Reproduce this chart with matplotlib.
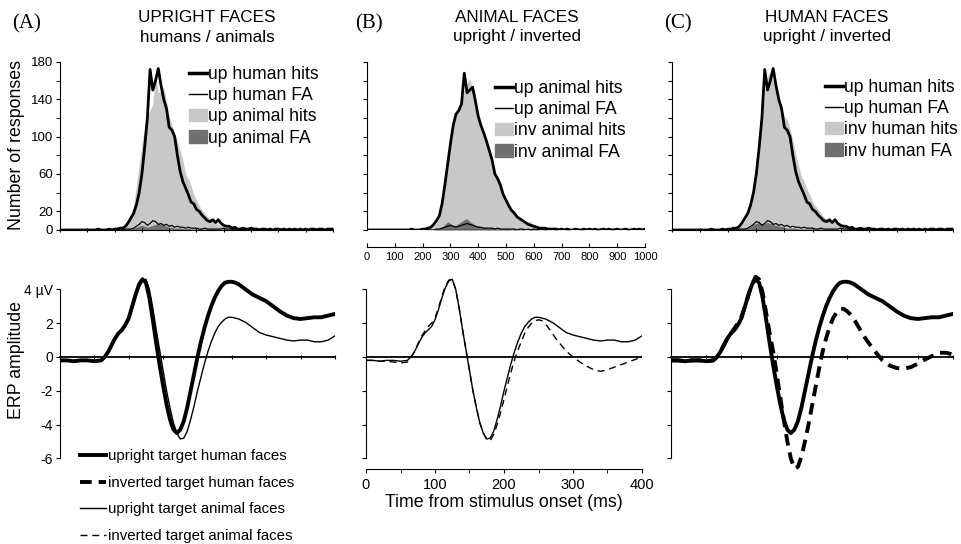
import numpy as np
import matplotlib.pyplot as plt
from matplotlib.lines import Line2D
from matplotlib.patches import Patch

plt.rcParams["font.family"] = "Liberation Sans"

# ---- reaction time histograms (10 ms bins, 0..1000 ms) ----
rt_bins = np.arange(0, 1001, 10)

up_human_hits = [0, 0, 0, 0, 0, 0, 0, 0, 0, 0,
                 0, 0, 0, 0, 1, 0, 0, 0, 1, 0,
                 1, 1, 2, 2, 4, 8, 13, 18, 27, 40,
                 60, 88, 120, 172, 150, 160, 173, 155, 140, 130,
                 110, 107, 100, 80, 63, 52, 45, 38, 30, 28,
                 22, 20, 16, 13, 10, 9, 11, 8, 11, 7,
                 5, 4, 4, 2, 3, 1, 1, 2, 1, 1,
                 2, 1, 1, 0, 1, 1, 0, 1, 0, 1,
                 1, 0, 1, 0, 1, 0, 1, 0, 1, 0,
                 1, 0, 1, 1, 0, 1, 1, 0, 1, 1,
                 1]
up_human_fa = [0, 0, 0, 0, 0, 0, 0, 0, 0, 0,
               0, 0, 0, 0, 0, 0, 0, 0, 0, 0,
               0, 0, 0, 0, 1, 1, 1, 2, 4, 6,
               9, 8, 5, 7, 10, 9, 6, 7, 5, 6,
               4, 5, 3, 4, 3, 3, 2, 3, 2, 2,
               2, 1, 1, 2, 1, 1, 1, 1, 1, 1,
               2, 1, 1, 1, 0, 1, 0, 1, 0, 0,
               1, 0, 0, 1, 0, 0, 1, 0, 0, 0,
               0, 1, 0, 0, 0, 1, 0, 0, 0, 0,
               1, 0, 0, 0, 1, 0, 0, 0, 0, 1,
               0]
up_animal_hits = [0, 0, 0, 0, 0, 0, 0, 0, 0, 0,
                  0, 0, 0, 0, 0, 0, 1, 0, 0, 0,
                  1, 1, 2, 3, 6, 10, 15, 28, 48, 70,
                  92, 112, 124, 128, 135, 168, 147, 150, 153, 138,
                  122, 112, 104, 95, 85, 75, 60, 55, 48, 38,
                  32, 26, 21, 18, 14, 12, 10, 8, 6, 5,
                  4, 3, 2, 2, 2, 1, 1, 1, 1, 0,
                  1, 0, 1, 0, 0, 1, 0, 0, 1, 0,
                  1, 0, 1, 0, 0, 1, 0, 1, 0, 0,
                  1, 0, 0, 1, 0, 0, 1, 0, 1, 0,
                  1]
up_animal_fa = [0, 0, 0, 0, 0, 0, 0, 0, 0, 0,
                0, 0, 0, 0, 0, 0, 0, 0, 0, 0,
                0, 0, 0, 0, 0, 1, 1, 2, 3, 4,
                5, 4, 3, 4, 5, 6, 7, 6, 5, 4,
                3, 3, 2, 2, 2, 2, 1, 2, 1, 1,
                1, 1, 1, 1, 0, 1, 1, 0, 1, 0,
                1, 0, 1, 0, 0, 1, 0, 0, 0, 1,
                0, 0, 1, 0, 0, 0, 1, 0, 0, 0,
                1, 0, 0, 0, 1, 0, 0, 0, 0, 1,
                0, 0, 1, 0, 0, 0, 0, 1, 0, 0,
                1]
inv_animal_hits = [0, 0, 0, 0, 0, 0, 0, 0, 0, 0,
                   0, 0, 0, 0, 0, 0, 0, 1, 0, 0,
                   0, 1, 1, 2, 4, 8, 13, 24, 44, 66,
                   90, 110, 122, 130, 138, 150, 158, 162, 150, 138,
                   122, 112, 102, 94, 86, 74, 62, 56, 46, 38,
                   30, 26, 22, 18, 16, 12, 10, 9, 9, 9,
                   5, 3, 3, 2, 2, 2, 1, 1, 1, 0,
                   1, 0, 0, 1, 0, 1, 0, 0, 1, 0,
                   0, 1, 0, 1, 0, 0, 1, 0, 0, 1,
                   0, 1, 0, 0, 1, 0, 0, 1, 0, 1,
                   0]
inv_animal_fa = [0, 0, 0, 0, 0, 0, 0, 0, 0, 0,
                 0, 0, 0, 0, 0, 0, 0, 0, 0, 0,
                 0, 0, 0, 0, 0, 1, 1, 3, 6, 9,
                 7, 5, 5, 7, 9, 11, 12, 9, 7, 5,
                 4, 3, 3, 2, 2, 2, 1, 1, 1, 1,
                 1, 1, 0, 1, 1, 0, 1, 0, 0, 1,
                 0, 1, 0, 0, 1, 0, 0, 0, 1, 0,
                 0, 0, 1, 0, 0, 0, 0, 1, 0, 0,
                 0, 0, 0, 1, 0, 0, 0, 0, 1, 0,
                 0, 0, 0, 0, 1, 0, 0, 0, 0, 0,
                 0]
inv_human_hits = [0, 0, 0, 0, 0, 0, 0, 0, 0, 0,
                  0, 0, 0, 0, 0, 0, 0, 0, 1, 0,
                  0, 1, 1, 2, 3, 6, 10, 16, 25, 38,
                  56, 85, 118, 150, 165, 170, 160, 150, 140, 130,
                  122, 118, 108, 96, 82, 70, 58, 52, 44, 38,
                  30, 26, 22, 18, 14, 12, 12, 9, 8, 6,
                  5, 4, 3, 3, 2, 2, 1, 1, 1, 1,
                  0, 1, 0, 1, 0, 0, 1, 0, 1, 0,
                  0, 1, 0, 0, 1, 0, 1, 0, 0, 1,
                  0, 0, 1, 0, 0, 1, 0, 1, 0, 0,
                  1]
inv_human_fa = [0, 0, 0, 0, 0, 0, 0, 0, 0, 0,
                0, 0, 0, 0, 0, 0, 0, 0, 0, 0,
                0, 0, 0, 0, 0, 1, 2, 2, 4, 6,
                7, 8, 6, 7, 8, 7, 6, 5, 4, 4,
                3, 2, 2, 2, 2, 1, 1, 1, 1, 1,
                1, 0, 1, 1, 0, 1, 0, 1, 0, 0,
                1, 0, 0, 1, 0, 0, 0, 1, 0, 0,
                0, 1, 0, 0, 0, 1, 0, 0, 0, 0,
                1, 0, 0, 0, 0, 0, 1, 0, 0, 0,
                0, 0, 1, 0, 0, 0, 0, 0, 1, 0,
                0]

# ---- ERPs (ms, microvolts) ----
erp_t = [0, 10, 20, 30, 40, 50, 60,
         65, 70, 75, 80, 85, 90, 95, 100, 105, 110,
         115, 120, 125, 130, 135, 140, 145, 150, 155, 160,
         165, 170, 175, 180, 185, 190, 195, 200, 205, 210,
         215, 220, 225, 230, 235, 240, 245, 250, 255, 260,
         265, 270, 275, 280,
         290, 300, 310, 320, 330, 340, 350, 360, 370, 380, 390, 400]

erp_up_human = [-0.2, -0.2, -0.25, -0.2, -0.2, -0.25, -0.2,
                0.0, 0.3, 0.7, 1.1, 1.4, 1.6, 1.9, 2.3, 3.0, 3.7,
                4.3, 4.6, 4.4, 3.5, 2.2, 0.8, -0.5, -1.7, -2.8, -3.7,
                -4.3, -4.5, -4.3, -3.8, -3.0, -2.0, -1.0, 0.0, 0.9, 1.7,
                2.4, 3.0, 3.5, 3.9, 4.2, 4.4, 4.45, 4.45, 4.4, 4.3,
                4.15, 4.0, 3.85, 3.7,
                3.5, 3.3, 3.0, 2.7, 2.45, 2.3, 2.25, 2.3, 2.35, 2.35, 2.45, 2.55]
erp_up_animal = [-0.2, -0.2, -0.25, -0.2, -0.2, -0.25, -0.2,
                 0.0, 0.3, 0.7, 1.1, 1.4, 1.6, 1.8, 2.2, 2.8, 3.5,
                 4.1, 4.5, 4.6, 4.0, 2.9, 1.6, 0.4, -0.8, -2.0, -3.0,
                 -3.9, -4.5, -4.85, -4.8, -4.4, -3.7, -2.9, -2.0, -1.2, -0.4,
                 0.3, 0.9, 1.4, 1.8, 2.05, 2.25, 2.35, 2.35, 2.3, 2.25,
                 2.15, 2.05, 1.9, 1.75,
                 1.45, 1.3, 1.2, 1.1, 1.0, 0.95, 1.0, 1.0, 0.9, 0.9, 1.0, 1.25]
erp_inv_animal = [-0.2, -0.2, -0.25, -0.25, -0.3, -0.35, -0.3,
                  -0.05, 0.3, 0.75, 1.2, 1.5, 1.8, 2.0, 2.3, 2.9, 3.6,
                  4.2, 4.55, 4.6, 4.0, 2.9, 1.6, 0.4, -0.8, -2.0, -3.0,
                  -3.9, -4.5, -4.9, -4.95, -4.6, -4.0, -3.3, -2.5, -1.7, -0.9,
                  -0.2, 0.4, 0.9, 1.4, 1.75, 2.0, 2.15, 2.2, 2.15, 1.95,
                  1.7, 1.4, 1.1, 0.85,
                  0.35, 0.0, -0.3, -0.55, -0.75, -0.85, -0.75, -0.6, -0.45, -0.3, -0.15, 0.0]
erp_inv_human = [-0.2, -0.2, -0.25, -0.2, -0.2, -0.25, -0.2,
                 0.0, 0.3, 0.7, 1.1, 1.4, 1.7, 2.0, 2.4, 3.0, 3.7,
                 4.3, 4.75, 4.6, 3.8, 2.6, 1.4, 0.3, -1.0, -2.4, -3.7,
                 -5.0, -6.0, -6.6, -6.5, -5.9, -5.0, -4.0, -2.9, -1.8, -0.7,
                 0.3, 1.1, 1.8, 2.3, 2.65, 2.85, 2.85, 2.7, 2.5, 2.2,
                 1.85, 1.5, 1.15, 0.85,
                 0.3, -0.2, -0.5, -0.65, -0.7, -0.6, -0.4, -0.15, 0.05, 0.25, 0.25, 0.15]

LIGHT = "#c8c8c8"
DARK = "#707070"
THICK = 2.8
THIN = 1.0

W, H = 962, 544
fig = plt.figure(figsize=(W / 100, H / 100), dpi=100)


def px_axes(left, right, top, bottom):
    return fig.add_axes([left / W, 1 - bottom / H, (right - left) / W, (bottom - top) / H])


def fig_xy(x, y):
    return (x / W, 1 - y / H)


# ---------- top row: histograms ----------
hist_specs = [
    # left, right, line hits, line fa, fill hits, fill fa, labels, legend pos
    (60, 333, up_human_hits, up_human_fa, up_animal_hits, up_animal_fa,
     ["up human hits", "up human FA", "up animal hits", "up animal FA"], (189, 66)),
    (367, 645, up_animal_hits, up_animal_fa, inv_animal_hits, inv_animal_fa,
     ["up animal hits", "up animal FA", "inv animal hits", "inv animal FA"], (495, 80)),
    (672, 953, up_human_hits, up_human_fa, inv_human_hits, inv_human_fa,
     ["up human hits", "up human FA", "inv human hits", "inv human FA"], (825, 79)),
]

for i, (l, r, lh, lf, fh, ff, labels, lpos) in enumerate(hist_specs):
    ax = px_axes(l, r, 230 - 185 * 168 / 180, 230)
    ax.fill_between(rt_bins, fh, color=LIGHT, lw=0)
    ax.fill_between(rt_bins, ff, color=DARK, lw=0)
    ax.plot(rt_bins, lh, color="black", lw=2.0)
    ax.plot(rt_bins, lf, color="black", lw=0.9)
    ax.set_xlim(0, 1000)
    ax.set_ylim(0, 185)
    ax.spines[["top", "right"]].set_visible(False)
    ax.spines["left"].set_bounds(0, 180)
    ax.set_xticks(np.arange(0, 1001, 100))
    if i == 0:
        ax.set_yticks([0, 20, 60, 100, 140, 180])
        ax.set_yticks([40, 80, 120, 160], minor=True)
        ax.tick_params(axis="y", which="both", length=3, labelsize=9.5, pad=2)
    else:
        ax.set_yticks(np.arange(0, 181, 20))
        ax.tick_params(axis="y", length=3, labelleft=False)
    if i == 1:
        ax.axhline(0, color="black", lw=1.0)
        ax.spines["bottom"].set_position(("outward", 12))
        ax.tick_params(axis="x", direction="in", length=3, labelsize=8, pad=4)
    else:
        ax.tick_params(axis="x", direction="inout", length=2.5, labelbottom=False)
    handles = [Line2D([], [], color="black", lw=2.5),
               Line2D([], [], color="black", lw=1.0),
               Patch(color=LIGHT), Patch(color=DARK)]
    ax.legend(handles, labels, loc="upper left", bbox_to_anchor=fig_xy(*lpos),
              bbox_transform=fig.transFigure, frameon=False, fontsize=12.7,
              handlelength=1.0, handletextpad=0.08, labelspacing=0.24,
              borderpad=0, borderaxespad=0)

# ---------- bottom row: ERPs ----------
u = 16.9  # px per microvolt
zero_px = 357
erp_specs = [
    (60, 335, [(erp_up_human, THICK, "-"), (erp_up_animal, THIN, "-")]),
    (366, 642, [(erp_up_animal, THIN, "-"), (erp_inv_animal, THIN, (0, (5, 3.5)))]),
    (671, 953, [(erp_up_human, THICK, "-"), (erp_inv_human, THICK, (0, (3, 1.8)))]),
]
for i, (l, r, curves) in enumerate(erp_specs):
    ax = px_axes(l, r, zero_px - 5 * u, zero_px + 7 * u)
    for y, lw, ls in curves:
        ax.plot(erp_t, y, color="black", lw=lw, linestyle=ls)
    ax.set_xlim(0, 400)
    ax.set_ylim(-7, 5)
    ax.spines[["top", "right"]].set_visible(False)
    ax.spines["left"].set_bounds(-6, 4)
    ax.set_yticks([-6, -4, -2, 0, 2, 4])
    if i == 0:
        ax.set_yticklabels(["-6", "-4", "-2", "0", "2", "4 \u00b5V"])
        ax.tick_params(axis="y", length=3, labelsize=10, pad=2)
    else:
        ax.tick_params(axis="y", length=3, labelleft=False)
    if i == 1:
        ax.axhline(0, color="black", lw=1.3)
        ax.spines["bottom"].set_position(("data", -6.65))
        ax.set_xticks([0, 100, 200, 300, 400])
        ax.set_xticks([50, 150, 250, 350], minor=True)
        ax.tick_params(axis="x", which="both", length=3, labelsize=10.5, pad=3)
        ax.set_xlabel("Time from stimulus onset (ms)", fontsize=12.8, labelpad=2)
    else:
        ax.spines["bottom"].set_position(("data", 0))
        ax.spines["bottom"].set_linewidth(1.3)
        ax.set_xticks(np.arange(0, 401, 50))
        ax.tick_params(axis="x", direction="inout", length=3, labelbottom=False)

erp_handles = [Line2D([], [], color="black", lw=THICK),
               Line2D([], [], color="black", lw=THICK, linestyle=(0, (3, 1.8))),
               Line2D([], [], color="black", lw=THIN),
               Line2D([], [], color="black", lw=THIN, linestyle=(0, (5, 3.5)))]
erp_labels = ["upright target human faces", "inverted target human faces",
              "upright target animal faces", "inverted target animal faces"]
fig.legend(erp_handles, erp_labels, loc="upper left", bbox_to_anchor=fig_xy(80, 449),
           frameon=False, fontsize=10.8, handlelength=1.75, handletextpad=0.1,
           labelspacing=0.85, borderpad=0, borderaxespad=0)

# ---------- text ----------
for x, lab in [(27, "(A)"), (369, "(B)"), (678, "(C)")]:
    fig.text(*fig_xy(x, 24), lab, family="Liberation Serif", fontsize=15,
             ha="center", va="center")
for x, t1, t2 in [(207, "UPRIGHT FACES", "humans / animals"),
                  (517, "ANIMAL FACES", "upright / inverted"),
                  (827, "HUMAN FACES", "upright / inverted")]:
    fig.text(*fig_xy(x, 18), t1, fontsize=12.3, ha="center", va="center")
    fig.text(*fig_xy(x, 37), t2, fontsize=12.3, ha="center", va="center")

fig.text(*fig_xy(17, 145), "Number of responses", rotation=90, fontsize=12.8,
         ha="center", va="center")
fig.text(*fig_xy(17, 360), "ERP amplitude", rotation=90, fontsize=12.8,
         ha="center", va="center")

fig.savefig("out.png", dpi=100)
